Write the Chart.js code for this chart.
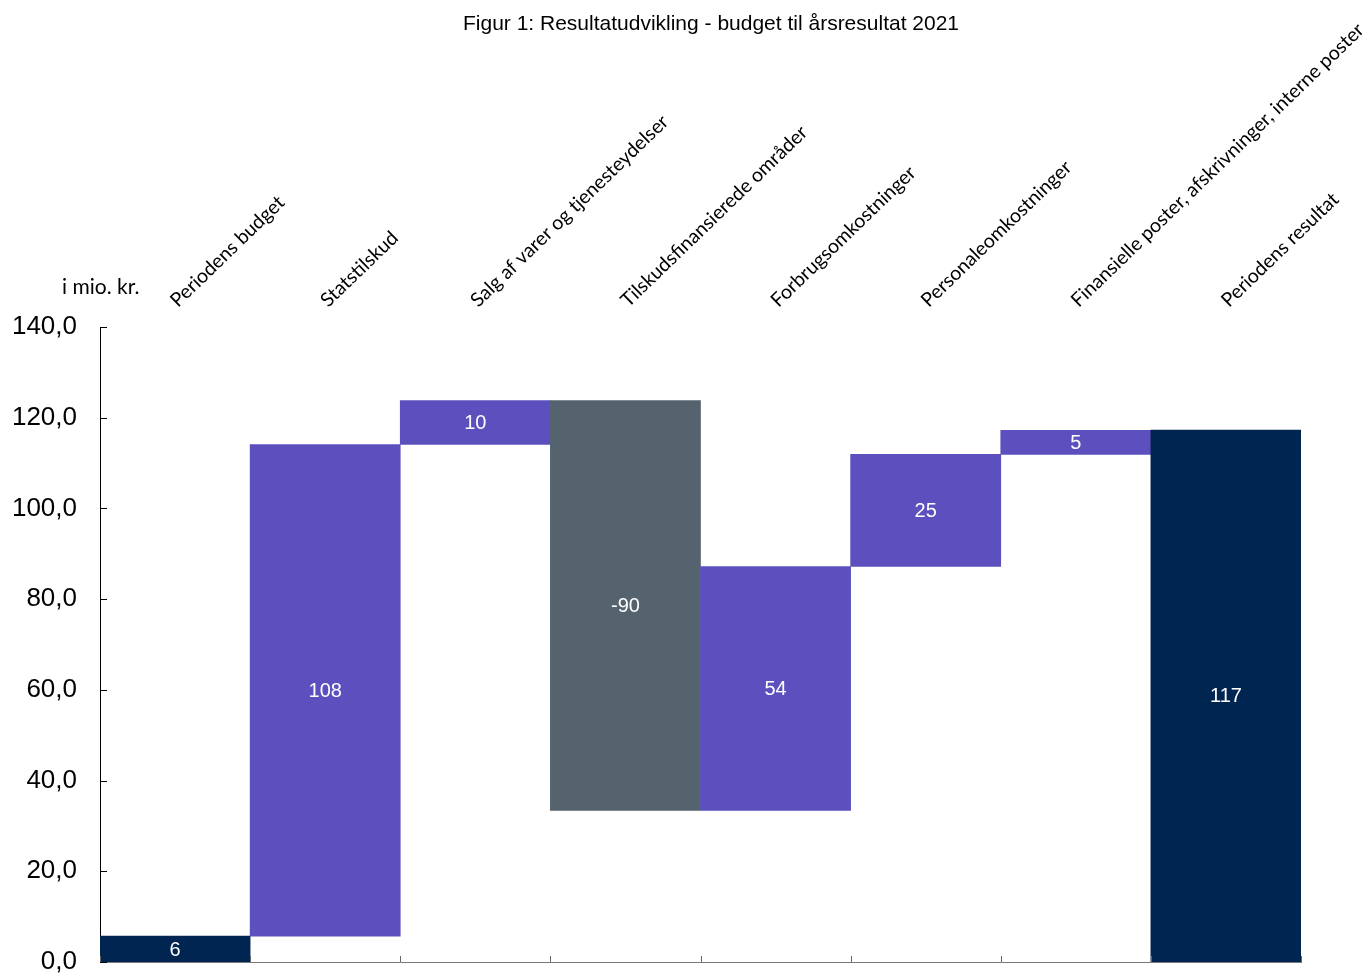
<!DOCTYPE html>
<html>
<head>
<meta charset="utf-8">
<script src="https://cdn.jsdelivr.net/npm/chart.js@4"></script>
<style>
  html, body { margin: 0; padding: 0; background: #fff; }
  #wrap { width: 1372px; height: 976px; }
</style>
</head>
<body>
<div id="wrap"><canvas id="chart"></canvas></div>
<script>
// data (mio. kr.)
const categories = [
  "Periodens budget",
  "Statstilskud",
  "Salg af varer og tjenesteydelser",
  "Tilskudsfinansierede områder",
  "Forbrugsomkostninger",
  "Personaleomkostninger",
  "Finansielle poster, afskrivninger, interne poster",
  "Periodens resultat"
];
const steps = [5.7, 108.4, 9.7, -90.4, 53.8, 24.7, 5.3]; // changes
const result = 117.3;                                     // last bar
const yTicks = [0, 20, 40, 60, 80, 100, 120, 140];

const NAVY = "#002550", PURPLE = "#5B50BE", GREY = "#55636F";

// floating bars [start, end]
const ranges = [];
const colors = [];
const shown = [];
let run = 0;
steps.forEach((d, i) => {
  ranges.push([run, run + d]);
  run += d;
  colors.push(i === 0 ? NAVY : (d < 0 ? GREY : PURPLE));
  shown.push(Math.round(d));
});
ranges.push([0, result]);
colors.push(NAVY);
shown.push(Math.round(result));

const fmt = v => v.toFixed(1).replace(".", ",");

// draws title, unit text, rotated category names, inward ticks, bar labels
const decor = {
  id: "decor",
  afterDraw(chart) {
    const { ctx, chartArea: a, scales: { x, y } } = chart;
    ctx.save();
    ctx.fillStyle = "#000";
    ctx.font = "21px 'Liberation Sans', Arial";
    ctx.textAlign = "center";
    ctx.textBaseline = "alphabetic";
    ctx.fillText("Figur 1: Resultatudvikling - budget til årsresultat 2021", 711, 30);

    ctx.font = "21px Lato, 'Open Sans'";
    ctx.textAlign = "left";
    ctx.fillText("i mio. kr.", 62, 294);

    categories.forEach((c, i) => {
      const px = x.getPixelForValue(i);
      ctx.save();
      ctx.translate(px + 3, a.top - 19);
      ctx.rotate(-44 * Math.PI / 180);
      ctx.font = "19.5px Lato, 'Open Sans'";
      ctx.fillText(c, 0, 0);
      ctx.restore();
    });

    // inward tick marks
    ctx.strokeStyle = "#000";
    ctx.lineWidth = 1;
    yTicks.forEach(t => {
      const py = Math.round(y.getPixelForValue(t)) + 0.5;
      ctx.beginPath();
      ctx.moveTo(a.left, py);
      ctx.lineTo(a.left + 7, py);
      ctx.stroke();
    });
    ctx.strokeStyle = "#666";
    for (let i = 0; i <= categories.length; i++) {
      const px = Math.round(x.getPixelForValue(i - 0.5)) + 0.5;
      ctx.beginPath();
      ctx.moveTo(px, a.bottom);
      ctx.lineTo(px, a.bottom - 6);
      ctx.stroke();
    }

    // values inside bars
    ctx.fillStyle = "#fff";
    ctx.font = "20px 'Liberation Sans', Arial";
    ctx.textAlign = "center";
    ctx.textBaseline = "middle";
    chart.getDatasetMeta(0).data.forEach((bar, i) => {
      ctx.fillText(String(shown[i]), bar.x, (bar.y + bar.base) / 2 + 1);
    });
    ctx.restore();
  }
};

new Chart(document.getElementById("chart"), {
  type: "bar",
  data: {
    labels: categories,
    datasets: [{
      data: ranges,
      backgroundColor: colors,
      borderWidth: 0,
      barPercentage: 1,
      categoryPercentage: 1
    }]
  },
  options: {
    responsive: true,
    maintainAspectRatio: false,
    animation: false,
    layout: { padding: { top: 327, right: 71, bottom: 14, left: 0 } },
    plugins: {
      legend: { display: false },
      tooltip: { enabled: false }
    },
    scales: {
      x: {
        afterFit(s) { s.height = 0; },
        ticks: { display: false },
        grid: { display: false, drawTicks: false },
        border: { display: true, color: "#777", width: 1 }
      },
      y: {
        min: 0,
        max: 140,
        afterFit(s) {
          s.width = 100;
          s.paddingTop = 0;
          s.paddingBottom = 0;
        },
        ticks: {
          stepSize: 20,
          padding: 23,
          color: "#000",
          font: { family: "'Liberation Sans', Arial", size: 26 },
          callback: v => fmt(v)
        },
        grid: { display: false, drawTicks: false },
        border: { display: true, color: "#000", width: 1 }
      }
    }
  },
  plugins: [decor]
});
</script>
</body>
</html>
